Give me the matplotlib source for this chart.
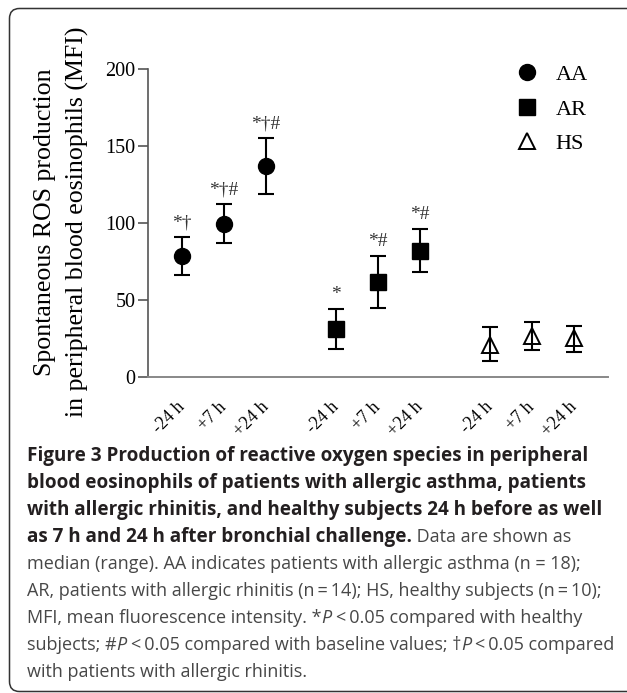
import matplotlib
matplotlib.use("Agg")
import matplotlib.pyplot as plt
from matplotlib.patches import PathPatch
from matplotlib.path import Path
from matplotlib.transforms import IdentityTransform
import numpy as np

# ---------------- data ----------------
groups = ["AA", "AR", "HS"]
time_labels = ["-24 h", "+7 h", "+24 h"]
aa_median = [78.5, 99.4, 137.1]
aa_low = [66.4, 86.8, 118.9]
aa_high = [91.0, 112.2, 155.5]
ar_median = [31.2, 61.4, 81.8]
ar_low = [17.8, 44.7, 68.0]
ar_high = [44.2, 78.5, 96.1]
hs_median = [20.6, 26.5, 25.4]
hs_low = [10.2, 17.4, 16.1]
hs_high = [32.1, 35.4, 33.2]
aa_sig = ["*\u2020", "*\u2020#", "*\u2020#"]
ar_sig = ["*", "*#", "*#"]
hs_sig = ["", "", ""]
y_ticks = [0, 50, 100, 150, 200]

W, H = 627, 693
fig = plt.figure(figsize=(W / 100, H / 100), dpi=100)
fig.patch.set_facecolor("white")

def px_axes(left, top, right, bottom):
    return [left / W, 1 - bottom / H, (right - left) / W, (bottom - top) / H]

ax = fig.add_axes(px_axes(148, 69.3, 608, 376.7))
serif = ["Liberation Serif", "DejaVu Serif"]

gap = 70 / 42 + 2
series = [
    (aa_median, aa_low, aa_high, aa_sig, dict(marker="o", ms=11.5, mfc="black", mec="black")),
    (ar_median, ar_low, ar_high, ar_sig, dict(marker="s", ms=11, mfc="black", mec="black")),
    (hs_median, hs_low, hs_high, hs_sig, dict(marker="^", ms=12, mfc="none", mec="black", mew=1.4)),
]
handles = []
for g, (med, lo, hi, sig, mk) in enumerate(series):
    xs = np.arange(3) + g * gap
    med = np.array(med); lo = np.array(lo); hi = np.array(hi)
    ax.errorbar(xs, med, yerr=[med - lo, hi - med], fmt="none", ecolor="black",
                elinewidth=1.5, capsize=6, capthick=1.5, zorder=2)
    h, = ax.plot(xs, med, ls="none", zorder=3, label=groups[g], **mk)
    handles.append(h)
    for x, top, s in zip(xs, hi, sig):
        if s:
            ax.annotate(s, (x, top), xytext=(0, 4), textcoords="offset points",
                        ha="center", va="bottom", fontsize=14, family=serif,
                        color="#333333")

ax.set_ylim(0, 200)
ax.set_xlim(-0.81, 10.14)
ax.set_yticks(y_ticks)
ax.set_yticklabels([str(v) for v in y_ticks], family=serif, fontsize=14.5)
all_x = np.concatenate([np.arange(3) + g * gap for g in range(3)])
ax.set_xticks(all_x)
ax.set_xticklabels(time_labels * 3, rotation=45, ha="right", va="center",
                   rotation_mode="anchor", family=serif, fontsize=13)
ax.tick_params(axis="x", length=0, pad=20)
ax.tick_params(axis="y", length=7, width=1.2, color="#555555", pad=2)
for s in ["top", "right"]:
    ax.spines[s].set_visible(False)
ax.spines["left"].set_color("#555555")
ax.spines["bottom"].set_color("#888888")
ax.spines["left"].set_linewidth(1.2)
ax.spines["bottom"].set_linewidth(1.4)

leg = ax.legend(handles=handles, loc="upper right", bbox_to_anchor=(1.0, 1.08),
                frameon=False, prop={"family": serif, "size": 16},
                labelspacing=0.62, handletextpad=0.3, numpoints=1)

# y label
fig.text(45, H - 222, "Spontaneous ROS production", transform=IdentityTransform(),
         rotation=90, ha="center", va="center", family=serif, fontsize=18.6)
fig.text(77, H - 222, "in peripheral blood eosinophils (MFI)", transform=IdentityTransform(),
         rotation=90, ha="center", va="center", family=serif, fontsize=18.6)

# frame (open on the right, bottom edge at the image border)
L, T, B, R, r = 9.5, H - 8.5, 1.5, W, 10
verts = [(R, T), (L + r, T), (L, T), (L, T - r), (L, B + r), (L, B), (L + r, B), (R, B)]
codes = [Path.MOVETO, Path.LINETO, Path.CURVE3, Path.CURVE3, Path.LINETO,
         Path.CURVE3, Path.CURVE3, Path.LINETO]
frame = PathPatch(Path(verts, codes), transform=IdentityTransform(), fill=False,
                  ec="#333333", lw=1.1)
fig.add_artist(frame)

# caption
sans = ["Open Sans", "DejaVu Sans"]
bold_c = "#231f20"
reg_c = "#474747"
bold_fs = 13.6
reg_fs = 13.0
ts = "\u2009"
lines = [
    [("Figure 3 Production of reactive oxygen species in peripheral", "bold", "normal")],
    [("blood eosinophils of patients with allergic asthma, patients", "bold", "normal")],
    [("with allergic rhinitis, and healthy subjects 24 h before as well", "bold", "normal")],
    [("as 7 h and 24 h after bronchial challenge.", "bold", "normal"),
     (" Data are shown as", "normal", "normal")],
    [("median (range). AA indicates patients with allergic asthma (n = 18);", "normal", "normal")],
    [(f"AR, patients with allergic rhinitis (n{ts}={ts}14); HS, healthy subjects (n{ts}={ts}10);", "normal", "normal")],
    [("MFI, mean fluorescence intensity. *", "normal", "normal"), ("P", "normal", "italic"),
     (f"{ts}<{ts}0.05 compared with healthy", "normal", "normal")],
    [("subjects; #", "normal", "normal"), ("P", "normal", "italic"),
     (f"{ts}<{ts}0.05 compared with baseline values; \u2020", "normal", "normal"),
     ("P", "normal", "italic"), (f"{ts}<{ts}0.05 compared", "normal", "normal")],
    [("with patients with allergic rhinitis.", "normal", "normal")],
]
renderer = fig.canvas.get_renderer()
base0 = 461
for i, segs in enumerate(lines):
    x = 27
    y = H - (base0 + 27 * i)
    for txt, wt, st in segs:
        t = fig.text(x, y, txt, transform=IdentityTransform(), ha="left", va="baseline",
                     family=sans, fontsize=bold_fs if wt == "bold" else reg_fs,
                     fontweight=wt, style=st,
                     color=bold_c if wt == "bold" else reg_c)
        bb = t.get_window_extent(renderer)
        x = bb.x1 + (1 if st == "italic" else 0)

fig.savefig("out.png", dpi=100)
